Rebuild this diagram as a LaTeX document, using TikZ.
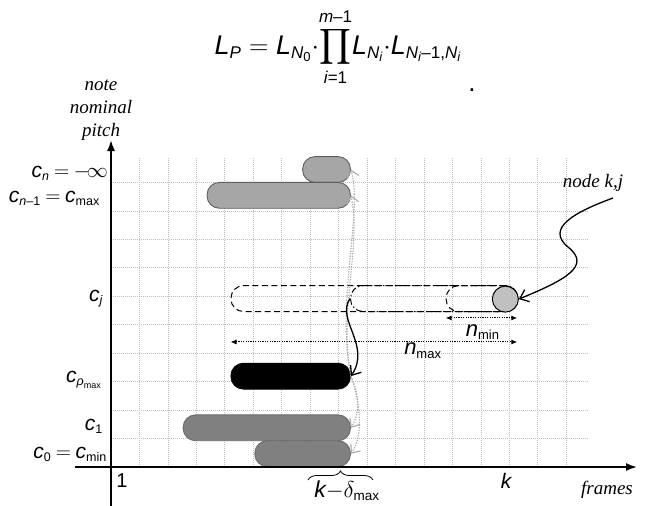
\documentclass[tikz,border=0pt]{standalone}
\usepackage{fix-cm}
\usepackage{amsmath}
\usepackage{fontspec}
\setmainfont{Liberation Serif}
\setsansfont{Liberation Sans}
\usetikzlibrary{arrows.meta,decorations.pathreplacing}
\DeclareMathSizes{21}{21}{12.5}{9}
\DeclareMathSizes{22}{22}{13}{10}
\DeclareMathSizes{23}{23}{13.5}{10}
\DeclareMathSizes{27}{27}{17}{13}
\newcommand\V[1]{\text{\sffamily\itshape #1}}
\newcommand\U[1]{\text{\sffamily\upshape #1}}
\definecolor{gridcol}{HTML}{BDBDBD}
\definecolor{barlight}{HTML}{A6A6A6}
\definecolor{barlightdraw}{HTML}{5F5F5F}
\definecolor{bardark}{HTML}{808080}
\definecolor{bardarkdraw}{HTML}{6A6A6A}
\definecolor{circfill}{HTML}{C0C0C0}
\definecolor{curvegray}{HTML}{A8A8A8}
\begin{document}
\begin{tikzpicture}[x=1pt,y=-1pt,
  bar/.style={draw, rounded corners=12.4pt, minimum height=25.83pt, inner sep=0pt, anchor=south west, line width=0.9pt},
  lightbar/.style={bar, fill=barlight, draw=barlightdraw},
  darkbar/.style={bar, fill=bardark, draw=bardarkdraw},
  dashbar/.style={bar, draw=black, line width=1pt, dash pattern=on 6pt off 3.5pt},
  dashdotbar/.style={bar, draw=black, line width=1pt, dash pattern=on 6pt off 2.5pt on 1.5pt off 2.5pt},
  clab/.style={anchor=base east, inner sep=0pt, font=\fontsize{21}{24}\selectfont},
  serlab/.style={inner sep=0pt, font=\fontsize{19}{23}\selectfont\itshape},
  axisline/.style={line width=1.8pt, -{Latex[length=11pt,width=8pt]}},
  dimline/.style={line width=1pt, dash pattern=on 1.2pt off 1.2pt, {Latex[length=6pt,width=5pt]}-{Latex[length=6pt,width=5pt]}},
  graycurve/.style={curvegray, line width=1.1pt, dash pattern=on 1.3pt off 1.3pt, -{Straight Barb[length=7pt,width=12pt]}},
  blackcurve/.style={black, line width=1.3pt, -{Straight Barb[length=8pt,width=13pt]}}
]
\useasboundingbox (0,0) rectangle (662,506);

% formula
\node[anchor=base, inner sep=0pt, font=\fontsize{27}{30}\selectfont] (form) at (338,54)
 {$\displaystyle \V{L}_{\V{P}} = \V{L}_{\V{N}_{\U{0}}}\mathord{\cdot}\!\prod_{\V{i}\U{=1}}^{\V{m}\U{–1}}\!\V{L}_{\V{N}_{\V{i}}}\mathord{\cdot}\V{L}_{\V{N}_{\V{i}}\U{–1,}\V{N}_{\V{i}}}$};
\node[anchor=base, inner sep=0pt, font=\fontsize{26}{30}\selectfont\sffamily] (dot) at (472,91) {.};

% axis label
\node[serlab, align=center] (ylab) at (101,110) {note\\nominal\\pitch};

\begin{scope}[shift={(111,467)}, x=23.9pt, y=25.83pt]
  % grid
  \draw[gridcol, line width=0.7pt, dash pattern=on 1pt off 1pt] (0,0) grid (20,12);

  % bars
  \node[lightbar, minimum width=47.8pt] (cn) at (8,11) {};
  \node[lightbar, minimum width=143.4pt] (cnm) at (4,10) {};
  \node[bar, fill=black, draw=black, minimum width=119.5pt] (rho) at (5,3) {};
  \node[darkbar, minimum width=167.3pt] (c1) at (3,1) {};
  \node[darkbar, minimum width=95.6pt] (c0) at (6,0) {};

  % dashed candidates
  \node[dashbar, minimum width=286.8pt] (dA) at (5,6) {};
  \node[dashdotbar, minimum width=167.3pt] (dB) at (10,6) {};
  \node[dashbar, minimum width=71.7pt] (dC) at (14,6) {};
  \node[circle, draw, fill=circfill, line width=1pt, minimum size=26pt, inner sep=0pt] (kj) at (16.5,6.5) {};

  % dimension arrows
  \coordinate (nminL) at (14,5.77);
  \coordinate (nminR) at (17,5.77);
  \coordinate (nmaxL) at (5,4.84);
  \coordinate (nmaxR) at (17,4.84);
  \draw[dimline] (nminL) -- (nminR);
  \draw[dimline] (nmaxL) -- (nmaxR);
  \node[inner sep=0pt, font=\fontsize{22}{24}\selectfont] (nminlab) at (15.55,5.22) {$\V{n}_{\U{min}}$};
  \node[inner sep=0pt, font=\fontsize{22}{24}\selectfont] (nmaxlab) at (13.05,4.5) {$\V{n}_{\U{max}}$};

  % gray transition curves
  \draw[graycurve] (rho.east) .. controls (9.5,6) and (10.5,8.6) .. (cnm.east);
  \draw[graycurve] (rho.east) .. controls (9.4,6.5) and (10.55,9.8) .. (cn.east);
  \draw[graycurve] (rho.east) .. controls (10.3,3) and (10.5,2.2) .. (c1.east);
  \draw[graycurve] (rho.east) .. controls (10.4,2.6) and (10.6,1.2) .. (c0.east);

  % black back-pointer curve
  \draw[blackcurve] (dB.west) .. controls (9.4,5.7) and (10.9,4.7) .. (rho.east);
\end{scope}

% node k,j label and curve
\node[serlab] (kjlab) at (593,183) {node k,j};
\coordinate (kjstart) at (613,198);
\draw[blackcurve] (kjstart) .. controls (575,212) and (545,228) .. (568,247)
  .. controls (592,266) and (565,280) .. (kj.east);

% axes
\coordinate (ybot) at (111,506);
\coordinate (ytop) at (111,140);
\coordinate (xl) at (75,467);
\coordinate (xr) at (637,467);
\draw[axisline] (ybot) -- (ytop);
\draw[axisline] (xl) -- (xr);

% y labels
\node[clab] (lcn) at (108,177) {$\V{c}_{\V{n}}\mkern4mu{=}\mkern4mu{-}\!\infty$};
\node[clab] (lcnm) at (100,202) {$\V{c}_{\V{n}\U{–1}}\mkern4mu{=}\mkern4mu\V{c}_{\U{max}}$};
\node[clab] (lcj) at (103,301) {$\V{c}_{\V{j}}$};
\node[clab] (lrho) at (102,382) {$\V{c}_{\V{ρ}_{\U{max}}}$};
\node[clab] (lc1) at (103,430) {$\V{c}_{\U{1}}$};
\node[clab] (lc0) at (107,458) {$\V{c}_{\U{0}}\mkern4mu{=}\mkern4mu\V{c}_{\U{min}}$};

% x labels
\node[anchor=base, inner sep=0pt, font=\fontsize{20}{24}\selectfont\sffamily] (one) at (122,487) {1};
\node[anchor=base, inner sep=0pt, font=\fontsize{21}{24}\selectfont\sffamily\itshape] (klab) at (506,488) {k};
\node[serlab, anchor=base] (frames) at (607,494) {frames};

% brace
\coordinate (brL) at (308,480);
\coordinate (brR) at (373,480);
\draw[line width=0.8pt, decorate, decoration={brace, amplitude=9pt}] (brL) -- (brR);
\node[anchor=base, inner sep=0pt, font=\fontsize{23}{24}\selectfont] (kdelta) at (347,497) {$\V{k}{-}\delta_{\U{max}}$};
\end{tikzpicture}
\end{document}
